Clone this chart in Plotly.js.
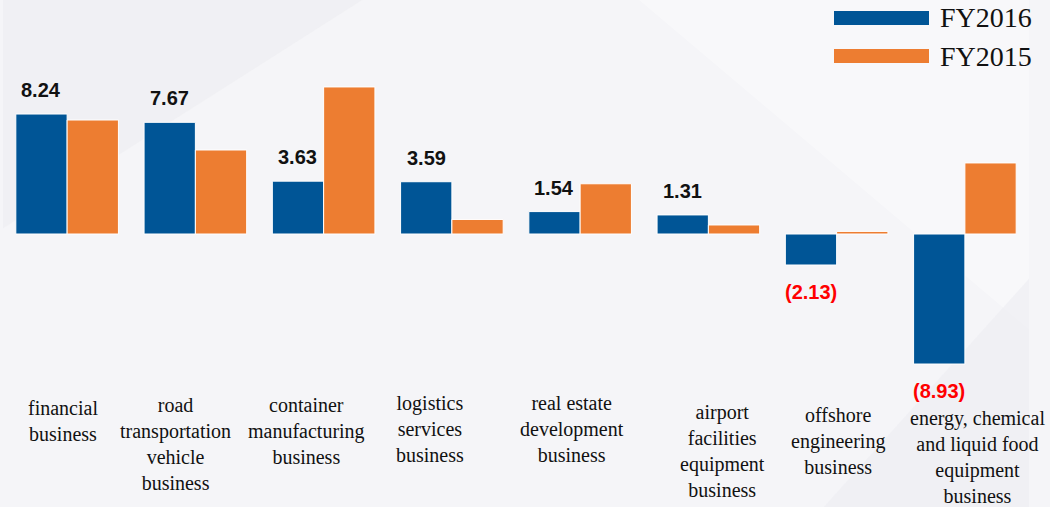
<!DOCTYPE html>
<html>
<head>
<meta charset="utf-8">
<script src="https://cdn.plot.ly/plotly-3.0.1.min.js"></script>
<style>
html,body{margin:0;padding:0;background:#f5f5f8;overflow:hidden;width:1050px;height:507px;}
#chart{width:1050px;height:507px;overflow:hidden;}
</style>
</head>
<body>
<div id="chart"></div>
<script>
// ---- data ----
var categories = ['financial business', 'road transportation vehicle business', 'container manufacturing business',
  'logistics services business', 'real estate development business', 'airport facilities equipment business',
  'offshore engineering business', 'energy, chemical and liquid food equipment business'];
var tickLabels = ['financial<br>business', 'road<br>transportation<br>vehicle<br>business', 'container<br>manufacturing<br>business',
  'logistics<br>services<br>business', 'real estate<br>development<br>business', 'airport<br>facilities<br>equipment<br>business',
  'offshore<br>engineering<br>business', 'energy, chemical<br>and liquid food<br>equipment<br>business'];
var fy2016 = [8.24, 7.67, 3.63, 3.59, 1.54, 1.31, -2.13, -8.93];
var fy2015 = [7.83, 5.77, 10.1, 1.0, 3.45, 0.62, 0.18, 4.88];
var fy2016Labels = ['8.24', '7.67', '3.63', '3.59', '1.54', '1.31', '(2.13)', '(8.93)'];
var seriesNames = ['FY2016', 'FY2015'];

// ---- styling / layout helpers ----
var BLUE = '#005596', ORANGE = '#ED7D31';
var W = 1050, H = 507;
// label block centres (px offset from category centre, px from top)
var labelDx = [-4, -20, -17, -22, -8, 14, 1, 13];
var labelCy = [420.5, 443.5, 431, 428.5, 428.5, 450.5, 441, 457];
var PXU = 14.56; // px per unit

var traces = [
  {type: 'bar', name: seriesNames[0], x: categories, y: fy2016,
   marker: {color: BLUE, line: {color: '#ffffff', width: 1}}, hoverinfo: 'none'},
  {type: 'bar', name: seriesNames[1], x: categories, y: fy2015,
   marker: {color: ORANGE, line: {color: '#ffffff', width: 1}}, hoverinfo: 'none'}
];

var SERIF = 'Liberation Serif, Times New Roman, serif';
var annotations = [];
fy2016.forEach(function (v, i) {
  annotations.push({
    x: i - 0.2, y: v, xref: 'x', yref: 'y', text: fy2016Labels[i], showarrow: false,
    xanchor: 'center', yanchor: 'middle', yshift: v >= 0 ? 24 : -27,
    font: {family: 'Liberation Sans, Arial, sans-serif', size: 20, color: v >= 0 ? '#111111' : '#ff0000', weight: 'bold'}
  });
});
tickLabels.forEach(function (t, i) {
  annotations.push({
    x: i, y: 1 - labelCy[i] / H, xref: 'x', yref: 'paper', text: t, showarrow: false,
    xanchor: 'center', yanchor: 'middle', xshift: labelDx[i], align: 'center',
    font: {family: SERIF, size: 20, color: '#111111'}
  });
});
// custom legend
var legendRows = [{y: 18, c: BLUE}, {y: 56, c: ORANGE}];
var shapes = [
  {type: 'path', xref: 'paper', yref: 'paper', path: 'M0.62,1 L1,1 L1,0.35 Z', fillcolor: 'rgba(255,255,255,0.35)', line: {width: 0}, layer: 'below'},
  {type: 'path', xref: 'paper', yref: 'paper', path: 'M0,0.55 L0.35,1 L0,1 Z', fillcolor: 'rgba(235,235,240,0.5)', line: {width: 0}, layer: 'below'},
  {type: 'path', xref: 'paper', yref: 'paper', path: 'M0.8,0 L1,0.45 L1,0 Z', fillcolor: 'rgba(236,236,241,0.6)', line: {width: 0}, layer: 'below'}
];
var PW = W - 3 - 21; // plot width in px for paper conversion
legendRows.forEach(function (r, i) {
  shapes.push({type: 'rect', xref: 'paper', yref: 'paper',
    x0: (834 - 3) / PW, x1: (929 - 3) / PW, y0: 1 - (r.y + 7) / H, y1: 1 - (r.y - 7) / H,
    fillcolor: r.c, line: {width: 0}});
  annotations.push({x: (938 - 3) / PW, y: 1 - r.y / H, xref: 'paper', yref: 'paper', text: seriesNames[i],
    showarrow: false, xanchor: 'left', yanchor: 'middle',
    font: {family: SERIF, size: 28, color: '#111111'}});
});

var layout = {
  width: W, height: H,
  margin: {l: 3, r: 21, t: 0, b: 0},
  paper_bgcolor: '#f5f5f8', plot_bgcolor: 'rgba(0,0,0,0)',
  barmode: 'group', bargap: 0.2, bargroupgap: 0,
  showlegend: false,
  xaxis: {type: 'category', range: [-0.5, 7.5], autorange: false, showticklabels: false, showgrid: false, zeroline: false, showline: false, ticks: ''},
  yaxis: {range: [-(H - 234) / PXU, 234 / PXU], autorange: false, showticklabels: false, showgrid: false, zeroline: false, showline: false, ticks: ''},
  annotations: annotations,
  shapes: shapes
};

Plotly.newPlot('chart', traces, layout, {displayModeBar: false, staticPlot: true});
</script>
</body>
</html>
